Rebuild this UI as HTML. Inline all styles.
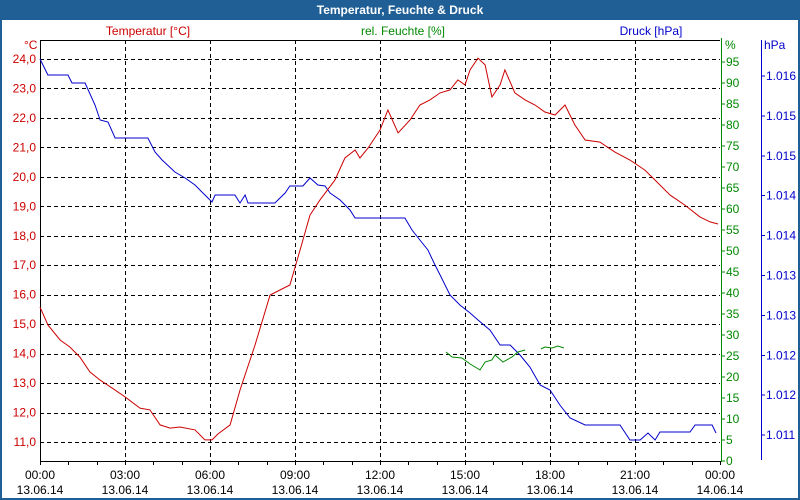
<!DOCTYPE html>
<html><head><meta charset="utf-8"><style>
body{margin:0;background:#fff;font-family:"Liberation Sans",sans-serif}
#wrap{position:relative;width:800px;height:500px;overflow:hidden}
</style></head><body>
<div id="wrap">
<svg id="chart" width="800" height="500" xmlns="http://www.w3.org/2000/svg" font-family="Liberation Sans, sans-serif" font-size="12"></svg>
</div>
<script>
const tempHours=[0,0.28,0.71,1.06,1.41,1.76,2.12,2.65,3.0,3.53,3.88,4.24,4.59,4.94,5.47,5.82,6.07,6.28,6.71,7.06,7.59,8.12,8.82,9.18,9.53,9.88,10.41,10.76,11.12,11.29,11.58,12.0,12.28,12.64,13.06,13.41,13.76,14.12,14.47,14.75,15.0,15.18,15.46,15.71,15.95,16.24,16.41,16.76,17.12,17.47,17.82,18.18,18.53,18.88,19.24,19.76,20.29,20.82,21.35,21.71,22.24,22.76,23.29,23.65,23.93];
const tempValues=[15.58,14.97,14.46,14.22,13.88,13.38,13.10,12.76,12.53,12.15,12.09,11.58,11.47,11.51,11.41,11.07,11.07,11.27,11.58,12.76,14.29,15.99,16.33,17.52,18.70,19.21,19.89,20.64,20.91,20.64,20.98,21.59,22.27,21.49,21.93,22.44,22.61,22.85,22.95,23.29,23.12,23.63,24.03,23.80,22.71,23.12,23.63,22.85,22.61,22.44,22.20,22.10,22.44,21.76,21.25,21.18,20.84,20.57,20.23,19.89,19.38,19.04,18.64,18.47,18.40];
const humHours=[14.33,14.54,14.89,15.18,15.53,15.71,15.95,16.06,16.34,16.66,16.87,17.12,null,17.68,17.82,18.07,18.28,18.49];
const humValues=[25.95,24.76,24.52,23.10,21.67,23.57,24.05,25.24,23.57,24.76,25.95,26.43,null,26.67,27.14,26.9,27.38,26.9];
const presXs=[40,48,68,72,85,95,100,108,115,148,155,162,175,185,195,205,212,215,235,240,245,248,275,285,290,303,310,318,325,330,340,350,355,405,412,420,428,435,440,450,460,470,478,490,500,510,520,530,540,550,560,570,585,620,630,640,648,655,660,690,695,712,716];
const presHours=presXs.map(x=>+((x-40)*24/680).toFixed(2));
const presValues=[1016.213,1016.013,1016.013,1015.912,1015.912,1015.637,1015.449,1015.424,1015.223,1015.223,1015.048,1014.947,1014.797,1014.722,1014.634,1014.509,1014.421,1014.509,1014.509,1014.409,1014.509,1014.409,1014.409,1014.534,1014.622,1014.622,1014.722,1014.634,1014.622,1014.534,1014.446,1014.321,1014.221,1014.221,1014.070,1013.945,1013.820,1013.632,1013.506,1013.256,1013.130,1013.030,1012.942,1012.817,1012.629,1012.629,1012.504,1012.353,1012.128,1012.065,1011.877,1011.714,1011.627,1011.627,1011.439,1011.439,1011.526,1011.439,1011.539,1011.539,1011.627,1011.627,1011.526];
const tempTicks=[24,23,22,21,20,19,18,17,16,15,14,13,12,11];
const humTicks=[0,5,10,15,20,25,30,35,40,45,50,55,60,65,70,75,80,85,90,95];
const presTickValues=[1016,1015.5,1015,1014.5,1014,1013.5,1013,1012.5,1012,1011.5];
const presTickLabels=["1.016","1.015","1.015","1.014","1.014","1.013","1.013","1.012","1.012","1.011"];
const timeTicks=[0,3,6,9,12,15,18,21,24];
const timeLabels=["00:00","03:00","06:00","09:00","12:00","15:00","18:00","21:00","00:00"];
const dateLabels=["13.06.14","13.06.14","13.06.14","13.06.14","13.06.14","13.06.14","13.06.14","13.06.14","14.06.14"];

const L=40,R=720,T=40,B=461;
const xS=h=>L+h*(R-L)/24;
const yT=v=>59+(24-v)*29.46;
const yH=v=>461-v*4.2;
const yP=v=>76+(1016-v)*79.8;
const svg=document.getElementById('chart');
const NS='http://www.w3.org/2000/svg';
function mk(tag,attrs,parent){const e=document.createElementNS(NS,tag);for(const k in attrs)e.setAttribute(k,attrs[k]);(parent||svg).appendChild(e);return e;}
function txt(s,x,y,fill,anchor){const e=mk('text',{x:x,y:y,fill:fill,'text-anchor':anchor||'start'});e.textContent=s;return e;}

let e=mk('rect',{x:0,y:0,width:800,height:500,fill:'#1f5f96'});

e=mk('rect',{x:2,y:20,width:796,height:478,fill:'#fff'});

e=txt('Temperatur, Feuchte & Druck',400,14,'#fff','middle');
e.setAttribute('font-weight','bold');e.setAttribute('font-size','12');


tempTicks.forEach(v=>{const g=mk('line',{x1:L,x2:R,y1:Math.round(yT(v))+0.5,y2:Math.round(yT(v))+0.5,stroke:'#000','stroke-dasharray':'4,3','shape-rendering':'crispEdges'});
});
timeTicks.slice(1,8).forEach(h=>{const x=Math.round(xS(h))+0.5;const g=mk('line',{x1:x,x2:x,y1:T,y2:B,stroke:'#000','stroke-dasharray':'4,3','shape-rendering':'crispEdges'});
});
e=mk('line',{x1:L,x2:R,y1:T+0.5,y2:T+0.5,stroke:'#000','shape-rendering':'crispEdges'});


e=mk('line',{x1:L+0.5,x2:L+0.5,y1:T,y2:B,stroke:'#000','shape-rendering':'crispEdges'});

e=mk('line',{x1:L,x2:R,y1:B+0.5,y2:B+0.5,stroke:'#000','shape-rendering':'crispEdges'});

for(let h=0;h<=24;h++){const x=Math.round(xS(h))+0.5;const t=mk('line',{x1:x,x2:x,y1:B,y2:B+4,stroke:'#000','shape-rendering':'crispEdges'});
}
e=mk('line',{x1:R+1.5,x2:R+1.5,y1:T-2,y2:B+1,stroke:'#080','shape-rendering':'crispEdges'});

e=mk('line',{x1:761.5,x2:761.5,y1:40,y2:460,stroke:'#00c','shape-rendering':'crispEdges'});


tempTicks.forEach(v=>{const t=txt(v.toFixed(1).replace('.',','),36,yT(v)+4,'#c00','end');
});
humTicks.forEach(v=>{const k=mk('line',{x1:R+1,x2:R+5,y1:yH(v),y2:yH(v),stroke:'#080','shape-rendering':'crispEdges'});

const t=txt(String(v),726,yH(v)+4,'#080');
});
presTickValues.forEach((v,i)=>{const k=mk('line',{x1:761,x2:765,y1:yP(v),y2:yP(v),stroke:'#00c','shape-rendering':'crispEdges'});

const t=txt(presTickLabels[i],766,yP(v)+4,'#00c');
});
timeTicks.forEach((h,i)=>{let t=txt(timeLabels[i],xS(h),479,'#000','middle');

t=txt(dateLabels[i],xS(h),494,'#000','middle');
});

e=txt('°C',24,49,'#c00');
e=txt('%',725,49,'#080');
e=txt('hPa',764,49,'#00c');
e=txt('Temperatur [°C]',148,35,'#c00','middle');
e=txt('rel. Feuchte [%]',403,35,'#080','middle');
e=txt('Druck [hPa]',651,35,'#00c','middle');

function path(hs,vs,yf){let d='',pen=false;hs.forEach((h,i)=>{if(h==null||vs[i]==null){pen=false;return;}d+=(pen?'L':'M')+xS(h).toFixed(1)+','+yf(vs[i]).toFixed(1);pen=true;});return d;}
e=mk('path',{d:path(presHours,presValues,yP),fill:'none',stroke:'#00c','stroke-width':1});

e=mk('path',{d:path(humHours,humValues,yH),fill:'none',stroke:'#080','stroke-width':1});

e=mk('path',{d:path(tempHours,tempValues,yT),fill:'none',stroke:'#c00','stroke-width':1});

</script>
</body></html>
